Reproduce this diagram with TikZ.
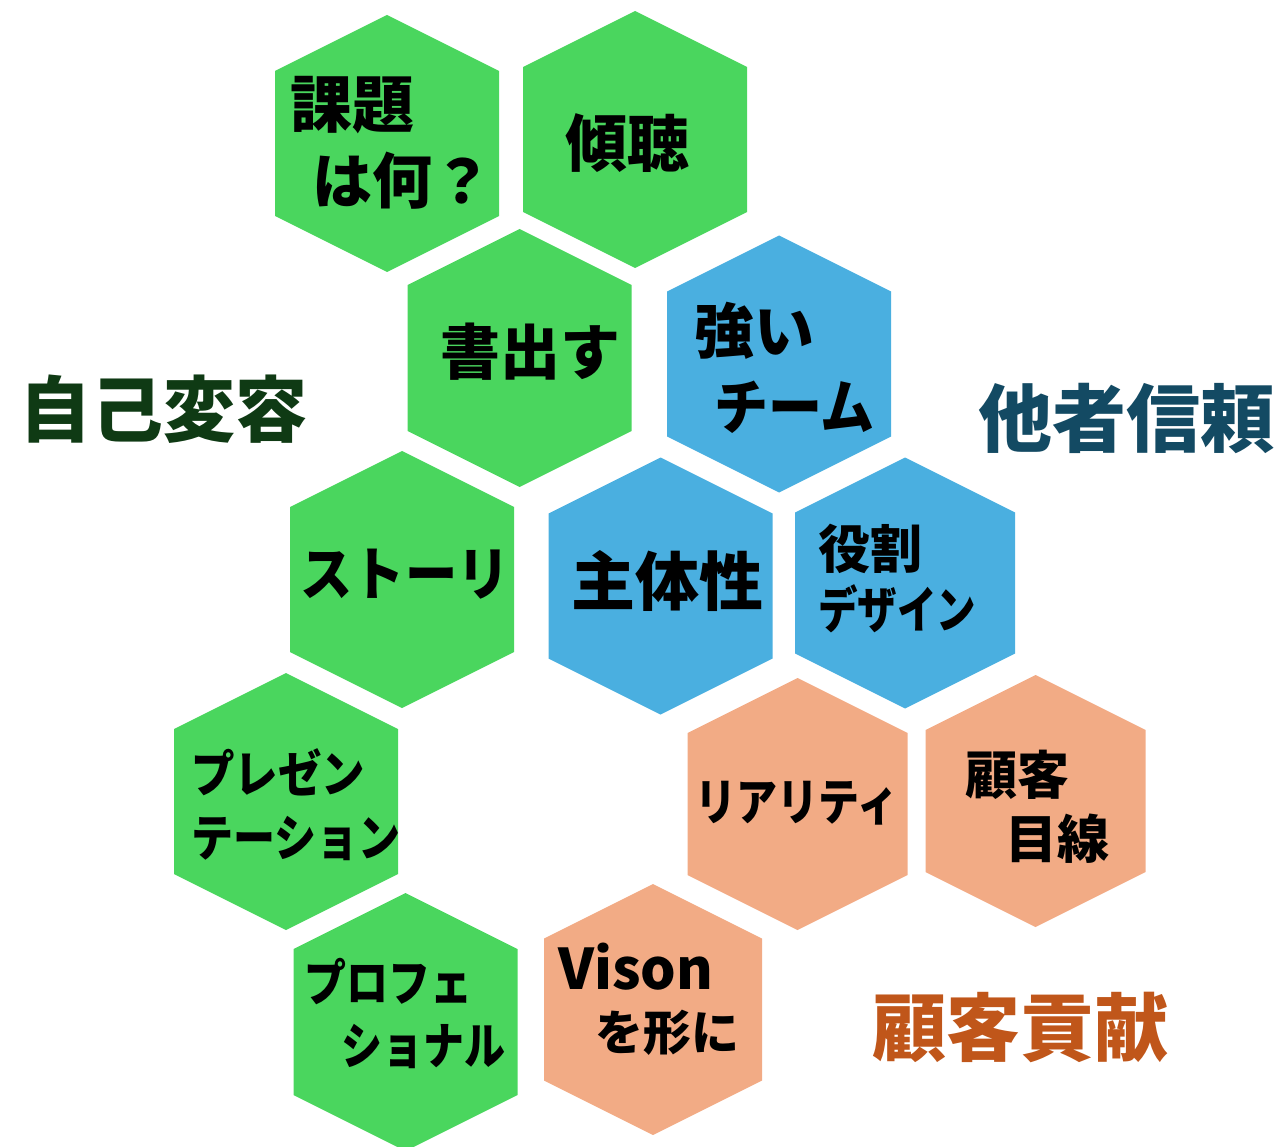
\documentclass[tikz,border=0pt]{standalone}
\usepackage{fontspec}
\usepackage{graphicx}
\newfontfamily\jp{Noto Sans CJK JP}
\definecolor{hgreen}{RGB}{74,214,94}
\definecolor{hblue}{RGB}{74,175,224}
\definecolor{horange}{RGB}{242,171,133}
\definecolor{tgreen}{RGB}{15,58,20}
\definecolor{tblue}{RGB}{19,74,99}
\definecolor{torange}{RGB}{192,86,26}
\newcommand\hexagon[5]{%
  \fill[#5] (#1,#2-#4) -- (#1+#3,#2-#4+#3/2) -- (#1+#3,#2+#4-#3/2) -- (#1,#2+#4)
    -- (#1-#3,#2+#4-#3/2) -- (#1-#3,#2-#4+#3/2) -- cycle;}
\newcommand\fs[1]{\fontsize{#1}{#1}\selectfont}
\newcommand\cond[2]{\scalebox{#1}[1]{#2}}
\tikzset{
  lbl/.style={inner sep=0pt, anchor=west, font=\jp\bfseries},
  ctr/.style={inner sep=0pt, anchor=center, font=\jp\bfseries},
  ttl/.style={inner sep=0pt, anchor=center, font=\jp\bfseries\fs{72}},
}
\begin{document}
\begin{tikzpicture}[x=1pt,y=-1pt]
\useasboundingbox (0,0) rectangle (1281,1147);
\hexagon{387}{143.5}{112}{128.5}{hgreen}
\hexagon{635}{139.5}{112}{128.5}{hgreen}
\hexagon{519.5}{358}{112}{129}{hgreen}
\hexagon{779}{364}{112}{128.5}{hblue}
\hexagon{402}{579.5}{112}{128.5}{hgreen}
\hexagon{660.5}{586}{112}{128.5}{hblue}
\hexagon{905}{583}{110}{125.5}{hblue}
\hexagon{286}{801.5}{112}{128.5}{hgreen}
\hexagon{797.5}{804}{110}{126}{horange}
\hexagon{1035.5}{801}{110}{126}{horange}
\hexagon{405.5}{1022}{112}{129}{hgreen}
\hexagon{653}{1009.5}{109}{125.5}{horange}

% texts
\node[lbl] (t1a) at (290,105.5) {\fs{62}課題};
\node[lbl] (t1b) at (312,181) {\fs{60}は何？};
\node[ctr] (t2) at (627,143.5) {\fs{62}傾聴};
\node[ctr] (t3) at (530,351.5) {\fs{60}書出す};
\node[lbl] (t4a) at (694,330.5) {\fs{60}強い};
\node[lbl] (t4b) at (714,407.5) {\fs{60}\cond{0.9}{チーム}};
\node[ctr] (t5) at (405,574) {\fs{58}\cond{0.9}{ストーリ}};
\node[ctr] (t6) at (667,581.5) {\fs{64}主体性};
\node[lbl] (t7a) at (818,548.5) {\fs{52}役割};
\node[lbl] (t7b) at (818,608.5) {\fs{50}\cond{0.79}{デザイン}};
\node[lbl] (t8a) at (191,772.5) {\fs{50}\cond{0.87}{プレゼン}};
\node[lbl] (t8b) at (191,838.5) {\fs{50}\cond{0.84}{テーション}};
\node[ctr] (t9) at (797,803.5) {\fs{50}\cond{0.82}{リアリティ}};
\node[lbl] (t10a) at (965,775) {\fs{52}顧客};
\node[lbl] (t10b) at (1005,838.5) {\fs{52}目線};
\node[lbl] (t11a) at (304,982) {\fs{50}\cond{0.84}{プロフェ}};
\node[lbl] (t11b) at (341,1046.5) {\fs{50}\cond{0.82}{ショナル}};
\node[lbl, anchor=base west] (t12a) at (558,989) {\fs{56}Vison};
\node[lbl] (t12b) at (595,1032.5) {\fs{48}を形に};

\node[ttl, text=tgreen] (g1) at (163.5,409) {自己変容};
\node[ttl, text=tblue] (g2) at (1126.5,418.5) {\fs{74}他者信頼};
\node[ttl, text=torange] (g3) at (1020,1027.5) {\fs{74}顧客貢献};
\end{tikzpicture}
\end{document}
